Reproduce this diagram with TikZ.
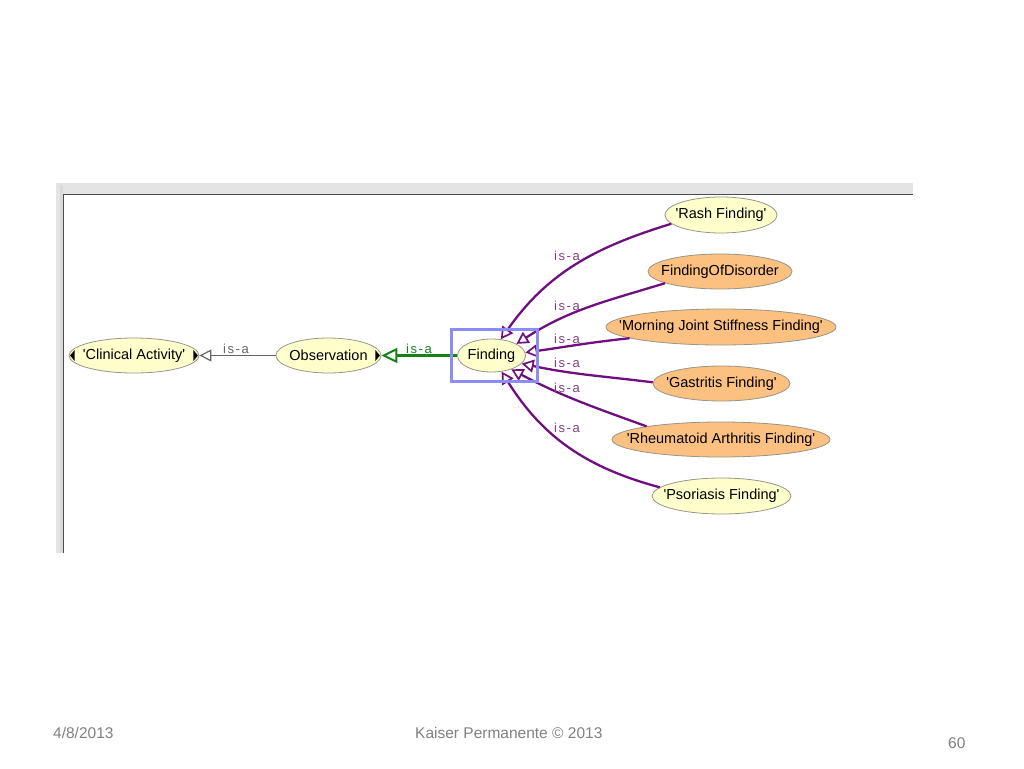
\documentclass[tikz,border=0pt]{standalone}
\usepackage{fontspec}
\usetikzlibrary{shapes.geometric,arrows.meta}
\newfontfamily\nodefont{Liberation Sans}
\newfontfamily\isafont[LetterSpace=12]{Liberation Sans}
\newfontfamily\footfont{Liberation Sans}
\newcommand{\cname}[1]{\makebox[0pt]{#1}}
\definecolor{conceptyellow}{RGB}{255,255,204}
\definecolor{conceptorange}{RGB}{252,192,128}
\definecolor{conceptborder}{RGB}{150,150,135}
\definecolor{isapurple}{RGB}{112,16,128}
\definecolor{isalabel}{RGB}{128,64,128}
\definecolor{isagreen}{RGB}{20,130,20}
\definecolor{isagrey}{RGB}{100,100,100}
\definecolor{selblue}{RGB}{140,140,245}
\definecolor{framegrey}{RGB}{228,228,228}
\tikzset{
  concept/.style={ellipse, draw=conceptborder, line width=0.8pt, inner sep=0pt,
    font=\nodefont\fontsize{14.5}{17}\selectfont},
  yel/.style={concept, fill=conceptyellow},
  org/.style={concept, fill=conceptorange},
  isa/.style={font=\isafont\fontsize{13}{15}\selectfont, inner sep=0pt},
  subclass/.style={isapurple, line width=2.3pt, -{Triangle[open,length=12pt,width=13pt,line width=1.7pt]}},
  footer/.style={font=\footfont\fontsize{15.5}{18}\selectfont, text=gray, inner sep=0pt, anchor=base west}
}
\begin{document}
\begin{tikzpicture}[x=1pt,y=-1pt]
    \useasboundingbox (0,0) rectangle (1024,768);
    \fill[framegrey] (56,183) rectangle (913,194);
    \fill[framegrey] (56,183) rectangle (63,553);
    \fill[gray!30] (59.5,185) rectangle (62.5,553);
    \draw[gray!60!black, line width=1.4pt] (63.5,553) -- (63.5,194.5) -- (913,194.5);

    \node[yel, minimum width=130, minimum height=35] (clin) at (134,355.5) {\cname{'Clinical Activity'}};
    \node[yel, minimum width=105, minimum height=35] (obs) at (328.5,355.5) {\cname{Observation}};
    \node[yel, minimum width=68, minimum height=33] (finding) at (491.5,355.5) {\cname{Finding}};
    \node[yel, minimum width=112, minimum height=36] (rash) at (721,215) {\cname{'Rash Finding'}};
    \node[org, minimum width=144, minimum height=35] (fod) at (720,271.5) {\cname{FindingOfDisorder}};
    \node[org, minimum width=230, minimum height=36] (mjs) at (721,327) {\cname{'Morning Joint Stiffness Finding'}};
    \node[org, minimum width=137, minimum height=35] (gast) at (721.5,383.5) {\cname{'Gastritis Finding'}};
    \node[org, minimum width=218, minimum height=35] (rheu) at (721,439.5) {\cname{'Rheumatoid Arthritis Finding'}};
    \node[yel, minimum width=139, minimum height=36] (psor) at (721.5,496) {\cname{'Psoriasis Finding'}};

    \fill[shift={(clin.west)}] (6,-5.5) -- (6,5.5) -- (1.5,0) -- cycle;
    \fill[shift={(clin.east)}] (-6,-5.5) -- (-6,5.5) -- (-1.5,0) -- cycle;
    \fill[shift={(obs.east)}] (-6,-5.5) -- (-6,5.5) -- (-1.5,0) -- cycle;

    \draw[isagrey, line width=1.8pt, -{Triangle[open,length=12pt,width=12pt,line width=1.2pt,fill=white]}] (obs.west) -- (clin.east);
    \draw[isagreen, line width=2.8pt, -{Triangle[open,length=16pt,width=15pt,line width=2pt,fill=white]}] (finding.west) -- (obs.east);
    \node[isa, text=isagrey] (lclin) at (236,349) {is-a};
    \node[isa, text=isagreen] (lobs) at (419,349) {is-a};

    \draw[subclass] (rash.190) to[out=197,in=55] (finding.60);
    \draw[subclass] (fod.192) to[out=197,in=33] (finding.25);
    \draw[subclass] (mjs.187) to[out=186,in=8] (finding.5);
    \draw[subclass] (gast.179) to[out=173,in=-12] (finding.-15);
    \draw[subclass] (rheu.170) to[out=160,in=-28] (finding.-35);
    \draw[subclass] (psor.172) to[out=165,in=-58] (finding.-58);
    \node[isa, text=isalabel] (lrash) at (567,256) {is-a};
    \node[isa, text=isalabel] (lfod) at (567,306) {is-a};
    \node[isa, text=isalabel] (lmjs) at (567,339) {is-a};
    \node[isa, text=isalabel] (lgast) at (567,363) {is-a};
    \node[isa, text=isalabel] (lrheu) at (567,388) {is-a};
    \node[isa, text=isalabel] (lpsor) at (567,428) {is-a};

    \draw[selblue, line width=3pt] (451,329.5) rectangle (537.5,381.5);

    \node[footer] (date) at (53,738) {4/8/2013};
    \node[footer] (owner) at (415,738) {Kaiser Permanente © 2013};
    \node[footer] (page) at (948,748) {60};
\end{tikzpicture}
\end{document}
